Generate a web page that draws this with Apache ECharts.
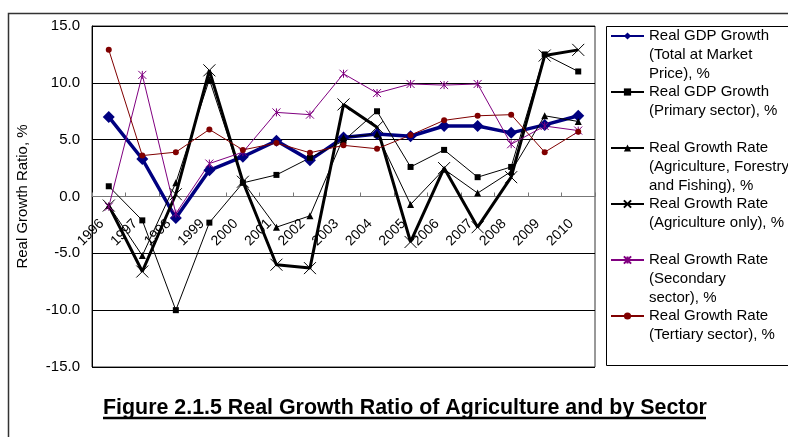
<!DOCTYPE html>
<html>
<head>
<meta charset="utf-8">
<script src="https://cdn.jsdelivr.net/npm/echarts@6/dist/echarts.min.js"></script>
<style>
  html, body { margin: 0; padding: 0; background: #fff; }
  #chart { width: 788px; height: 437px; }
</style>
</head>
<body>
<div id="chart"></div>
<script>
// Years on the category axis
const years = ['1996', '1997', '1998', '1999', '2000', '2001', '2002', '2003',
               '2004', '2005', '2006', '2007', '2008', '2009', '2010'];

// Real growth rates, %
const gdpTotal   = [7.0, 3.3, -1.9, 2.3, 3.5, 4.9, 3.2, 5.2, 5.5, 5.3, 6.2, 6.2, 5.6, 6.3, 7.1];
const gdpPrimary = [0.9, -2.1, -10.0, -2.3, 1.2, 1.9, 3.4, 4.9, 7.5, 2.6, 4.1, 1.7, 2.6, 12.5, 11.0];
const agriForFish = [-0.8, -5.2, 1.2, 10.3, 1.3, -2.7, -1.7, 5.2, 5.5, -0.7, 2.4, 0.3, 2.2, 7.1, 6.6];
const agriOnly   = [-0.8, -6.6, 0.2, 11.1, 1.3, -6.0, -6.3, 8.1, 6.1, -4.0, 2.5, -2.7, 1.7, 12.4, 12.9];
const secondary  = [-0.9, 10.7, -1.5, 2.9, 3.9, 7.4, 7.2, 10.8, 9.1, 9.9, 9.8, 9.9, 4.6, 6.2, 5.8];
const tertiary   = [12.9, 3.6, 3.9, 5.9, 4.1, 4.7, 3.85, 4.5, 4.2, 5.4, 6.7, 7.1, 7.2, 3.9, 5.7];

// Legend / series names (line breaks as shown in the legend)
const names = [
  'Real GDP Growth\n(Total at Market\nPrice), %',
  'Real GDP Growth\n(Primary sector), %',
  'Real Growth Rate\n(Agriculture, Forestry\nand Fishing), %',
  'Real Growth Rate\n(Agriculture only), %',
  'Real Growth Rate\n(Secondary\nsector), %',
  'Real Growth Rate\n(Tertiary sector), %'
];

// Axis settings
const yMin = -15, yMax = 15, yStep = 5;
const yTitle = 'Real Growth Ratio, %';
const figTitle = 'Figure 2.1.5 Real Growth Ratio of Agriculture and by Sector';

const FONT = 'Liberation Sans, Arial, sans-serif';
const LEGEND_LH = 19;

// Plot frame
const GRID = { left: 92, top: 26, right: 193, bottom: 70 };
const CHART_H = 437;
const plotH = CHART_H - GRID.top - GRID.bottom;
// distance from the bottom edge of the plot up to the zero line
const zeroLift = plotH * (0 - yMin) / (yMax - yMin);

const crossPath = 'path://M0,0L10,10M10,0L0,10';
const starPath = 'path://M0,0L10,10M10,0L0,10M5,0L5,10';

function line(name, data, color, width, symbol, size, hollow) {
  return {
    type: 'line',
    name: name,
    data: data,
    animation: false,
    symbol: symbol,
    symbolSize: size,
    showAllSymbol: true,
    lineStyle: { color: color, width: width },
    itemStyle: hollow
      ? { color: 'rgba(0,0,0,0)', borderColor: color, borderWidth: 1 }
      : { color: color, borderWidth: 0 },
    emphasis: { disabled: true }
  };
}

const series = [
  line(names[0], gdpTotal, '#000080', 3.5, 'diamond', 12, false),
  line(names[1], gdpPrimary, '#000000', 1, 'rect', 6, false),
  line(names[2], agriForFish, '#000000', 1, 'triangle', 7, false),
  line(names[3], agriOnly, '#000000', 3, crossPath, 12, true),
  line(names[4], secondary, '#800080', 1, starPath, 8, true),
  line(names[5], tertiary, '#800000', 1, 'circle', 6, false)
];

const chart = echarts.init(document.getElementById('chart'), null, { renderer: 'canvas' });

chart.setOption({
  backgroundColor: '#fff',
  animation: false,
  title: {
    text: figTitle,
    left: 103,
    top: 398,
    padding: 0,
    textStyle: { fontFamily: FONT, fontSize: 21.4, fontWeight: 'bold', color: '#000' }
  },
  grid: {
    left: GRID.left, top: GRID.top, right: GRID.right, bottom: GRID.bottom,
    show: true, borderColor: '#333', borderWidth: 1, backgroundColor: '#fff'
  },
  legend: {
    orient: 'vertical',
    left: 610,
    top: 36 - (2 * 3 - 1) * LEGEND_LH / 2,
    padding: 0,
    itemGap: -20,
    itemWidth: 33,
    itemHeight: 9,
    selectedMode: false,
    textStyle: { fontFamily: FONT, fontSize: 15, color: '#000', lineHeight: LEGEND_LH },
    // blank leading lines keep the first text line level with the icon
    formatter: function (n) {
      const k = n.split('\n').length;
      return '\n'.repeat(k - 1) + n;
    },
    data: names
  },
  xAxis: {
    type: 'category',
    data: years,
    boundaryGap: true,
    offset: -zeroLift,
    axisLine: { onZero: false, lineStyle: { color: '#777', width: 1 } },
    axisTick: { show: true, inside: true, length: 4, interval: 0, lineStyle: { color: '#777' } },
    axisLabel: {
      interval: 0, rotate: 45, margin: 18, padding: [0, 10, 0, 0],
      fontFamily: FONT, fontSize: 14, color: '#000'
    },
    splitLine: { show: false }
  },
  yAxis: {
    type: 'value',
    min: yMin, max: yMax, interval: yStep,
    name: yTitle,
    nameLocation: 'middle',
    nameGap: 62,
    nameTextStyle: { fontFamily: FONT, fontSize: 15, color: '#000' },
    axisLine: { show: true, lineStyle: { color: '#000' } },
    axisTick: { show: false },
    axisLabel: {
      margin: 12, fontFamily: FONT, fontSize: 15, color: '#000',
      formatter: function (v) { return v.toFixed(1); }
    },
    splitLine: { show: true, lineStyle: { color: '#000', width: 1 } }
  },
  graphic: [
    {
      type: 'rect', silent: true,
      shape: { x: 8.5, y: 13.5, width: 900, height: 600 },
      style: { fill: 'none', stroke: '#333', lineWidth: 1.5 }
    },
    {
      type: 'rect', silent: true,
      shape: { x: 606.5, y: 26.5, width: 300, height: 339 },
      style: { fill: 'none', stroke: '#000', lineWidth: 1 }
    },
    {
      type: 'line', silent: true,
      shape: { x1: 103, y1: 418, x2: 706, y2: 418 },
      style: { stroke: '#000', lineWidth: 2.5 }
    }
  ],
  series: series
});
</script>
</body>
</html>
